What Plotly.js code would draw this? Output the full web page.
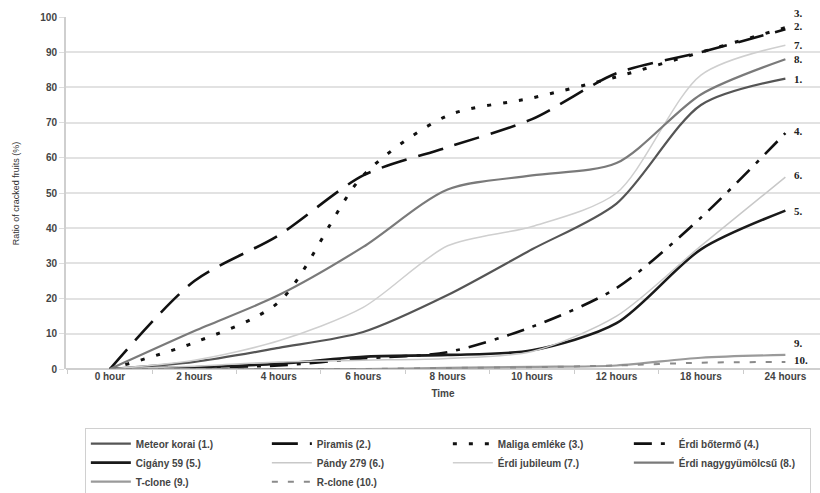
<!DOCTYPE html>
<html>
<head>
<meta charset="utf-8">
<script src="https://cdn.plot.ly/plotly-3.0.1.min.js"></script>
<style>html,body{margin:0;padding:0;background:#fff;}#chart{width:820px;height:493px;}</style>
</head>
<body>
<div id="chart"></div>
<script>
const categories = ["0 hour","2 hours","4 hours","6 hours","8 hours","10 hours","12 hours","18 hours","24 hours"];
const seriesNames = ["Meteor korai (1.)","Piramis (2.)","Maliga emléke (3.)","Érdi bőtermő (4.)","Cigány 59 (5.)","Pándy 279 (6.)","Érdi jubileum (7.)","Érdi nagygyümölcsű (8.)","T-clone (9.)","R-clone (10.)"];
const endLabels = ["1.","2.","3.","4.","5.","6.","7.","8.","9.","10."];
const meteorKorai = [0, 2, 6, 10.5, 21, 34, 47, 75, 82.5];
const piramis = [0, 25, 38, 55, 63, 71, 84, 90, 96.5];
const maligaEmleke = [0, 7.5, 19, 55, 72, 77, 83, 90, 97];
const erdiBotermo = [0, 0.5, 1, 3, 4.8, 12, 23, 43, 67];
const cigany59 = [0, 0.5, 1.5, 3.5, 4, 5.3, 13, 34, 45];
const pandy279 = [0, 0.8, 2, 2.5, 3, 5, 15, 35, 54.5];
const erdiJubileum = [0, 2.5, 8, 17.5, 35, 40.5, 50, 83.5, 92];
const erdiNagygyumolcsu = [0, 10.8, 21, 34.7, 51, 55, 58.5, 78, 88];
const tClone = [0, 0, 0, 0, 0.3, 0.6, 1, 3.2, 4];
const rClone = [0, 0, 0, 0, 0.3, 0.5, 1, 1.8, 2];

const values = [meteorKorai, piramis, maligaEmleke, erdiBotermo, cigany59, pandy279, erdiJubileum, erdiNagygyumolcsu, tClone, rClone];
const styles = [
  {color:"#555555", width:2.2, dash:"solid"},
  {color:"#111111", width:2.6, dash:"26px,12px"},
  {color:"#111111", width:3, dash:"4px,12px"},
  {color:"#111111", width:2.6, dash:"18px,9px,4px,9px"},
  {color:"#1a1a1a", width:2.6, dash:"solid"},
  {color:"#c8c8c8", width:1.5, dash:"solid"},
  {color:"#cfcfcf", width:1.5, dash:"solid"},
  {color:"#7a7a7a", width:2.2, dash:"solid"},
  {color:"#9a9a9a", width:2.2, dash:"solid"},
  {color:"#8a8a8a", width:2, dash:"6px,10px"}
];
const labelShift = [0, 3, 15, 2, 0, 2, 0, 0, 12, 2];

const traces = values.map((v, i) => ({
  x: categories, y: v, name: seriesNames[i], type: "scatter", mode: "lines",
  line: {shape: "spline", smoothing: 0.8, color: styles[i].color, width: styles[i].width, dash: styles[i].dash}
}));

const annotations = values.map((v, i) => ({
  x: categories[categories.length - 1], y: v[v.length - 1], xref: "x", yref: "y",
  text: "<b>" + endLabels[i] + "</b>", showarrow: false, xanchor: "left", yanchor: "middle",
  xshift: 7, yshift: labelShift[i],
  font: {family: "Liberation Serif, Times New Roman, serif", size: 11, color: "#222"}
}));
annotations.push({
  xref: "paper", yref: "paper", x: -0.066, y: 0.5, text: "Ratio of cracked fruits (%)",
  textangle: -90, showarrow: false, xanchor: "center", yanchor: "middle",
  font: {family: "Liberation Sans, Arial, sans-serif", size: 9, color: "#333"}
});

const tickFont = {family: "Liberation Sans, Arial, sans-serif", size: 10, color: "#444", weight: "bold"};

const layout = {
  width: 820, height: 493,
  margin: {l: 66, r: 0, t: 17, b: 124, autoexpand: false},
  paper_bgcolor: "#ffffff", plot_bgcolor: "#ffffff",
  showlegend: true,
  font: {family: "Liberation Sans, Arial, sans-serif", size: 10, color: "#333"},
  xaxis: {
    type: "category", range: [-0.52, 8.41],
    showgrid: false, zeroline: false,
    showline: false,
    ticks: "outside", tickson: "boundaries", ticklen: 4, tickcolor: "#cccccc",
    tickfont: tickFont,
    title: {text: "<b>Time</b>", standoff: 8, font: {family: "Liberation Sans, Arial, sans-serif", size: 10, color: "#444"}}
  },
  yaxis: {
    range: [0, 100], dtick: 10, tick0: 0,
    showgrid: true, gridcolor: "#e2e2e2", gridwidth: 2,
    zeroline: true, zerolinecolor: "#cfcfcf", zerolinewidth: 2,
    showline: true, linecolor: "#cfcfcf", linewidth: 2,
    ticks: "outside", ticklen: 5, tickcolor: "#dddddd",
    tickfont: tickFont
  },
  legend: {
    orientation: "h", x: 0.025, y: -0.168, xanchor: "left", yanchor: "top",
    entrywidth: 126, entrywidthmode: "pixels", itemwidth: 40,
    bordercolor: "#d0d0d0", borderwidth: 1, bgcolor: "#ffffff",
    font: {family: "Liberation Sans, Arial, sans-serif", size: 10, color: "#444", weight: "bold"},
    traceorder: "normal"
  },
  annotations: annotations
};

Plotly.newPlot("chart", traces, layout, {displayModeBar: false, staticPlot: true});
</script>
</body>
</html>
